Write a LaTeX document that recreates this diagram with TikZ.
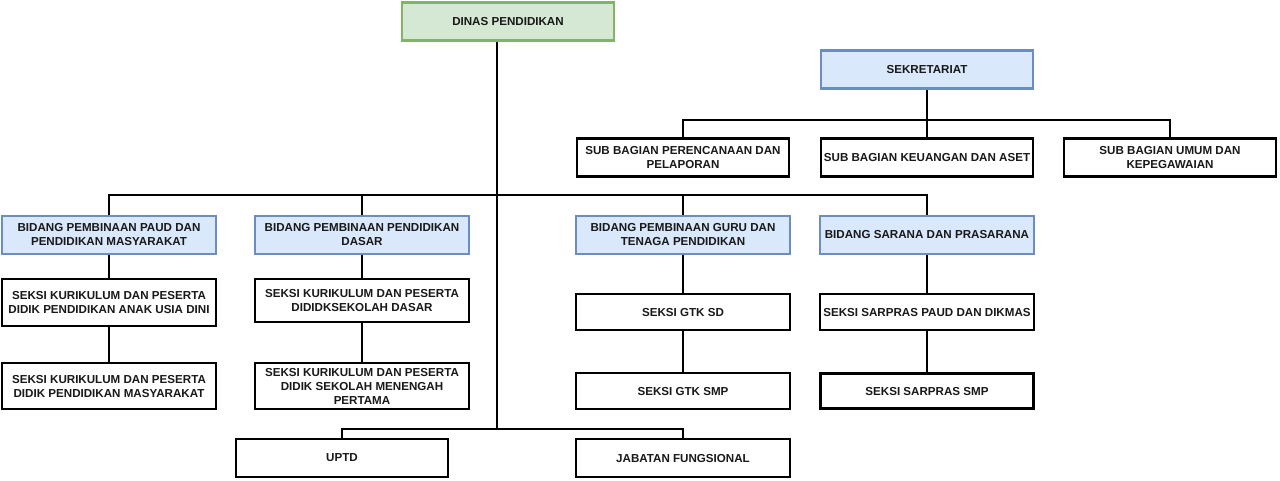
\documentclass[tikz,border=0pt]{standalone}
\usepackage{fontspec}
\setmainfont{Liberation Sans}
\begin{document}
\begin{tikzpicture}[x=1pt,y=-1pt,
  box/.style={draw=black,line width=2.2pt,fill=white,inner sep=0pt,align=center,
    font=\fontsize{11.6}{14}\selectfont\bfseries,text=black!90,minimum width=212pt,minimum height=38pt},
  green/.style={fill={rgb,255:red,213;green,232;blue,212},draw={rgb,255:red,130;green,179;blue,102}},
  blue/.style={fill={rgb,255:red,218;green,232;blue,252},draw={rgb,255:red,108;green,142;blue,191}},
  conn/.style={draw=black,line width=2.2pt}]
\useasboundingbox (0,0) rectangle (1280,480);
% top
\node[box,green] (dinas) at (508,21.5) {DINAS PENDIDIKAN};
\node[box,blue] (sek) at (927,69.5) {SEKRETARIAT};
\node[box] (sb1) at (683,157.5) {SUB BAGIAN PERENCANAAN DAN\\PELAPORAN};
\node[box] (sb2) at (927,157.5) {SUB BAGIAN KEUANGAN DAN ASET};
\node[box] (sb3) at (1170,157.5) {SUB BAGIAN UMUM DAN\\KEPEGAWAIAN};
% bidang
\node[box,blue,minimum width=214pt] (b1) at (109,235) {BIDANG PEMBINAAN PAUD DAN\\PENDIDIKAN MASYARAKAT};
\node[box,blue,minimum width=214pt] (b2) at (362,235) {BIDANG PEMBINAAN PENDIDIKAN\\DASAR};
\node[box,blue,minimum width=214pt] (b3) at (683,235) {BIDANG PEMBINAAN GURU DAN\\TENAGA PENDIDIKAN};
\node[box,blue,minimum width=214pt] (b4) at (927,235) {BIDANG SARANA DAN PRASARANA};
% seksi
\node[box,minimum width=214pt,minimum height=47pt] (s11) at (109,302.5) {SEKSI KURIKULUM DAN PESERTA\\DIDIK PENDIDIKAN ANAK USIA DINI};
\node[box,minimum width=214pt,minimum height=46pt] (s12) at (109,386) {SEKSI KURIKULUM DAN PESERTA\\DIDIK PENDIDIKAN MASYARAKAT};
\node[box,minimum width=214pt,minimum height=43pt] (s21) at (362,300.5) {SEKSI KURIKULUM DAN PESERTA\\DIDIDKSEKOLAH DASAR};
\node[box,minimum width=214pt,minimum height=46pt] (s22) at (362,386) {SEKSI KURIKULUM DAN PESERTA\\DIDIK SEKOLAH MENENGAH\\PERTAMA};
\node[box,minimum width=214pt,minimum height=36pt] (s31) at (683,312) {SEKSI GTK SD};
\node[box,minimum width=214pt,minimum height=36pt] (s32) at (683,391) {SEKSI GTK SMP};
\node[box,minimum width=214pt,minimum height=36pt] (s41) at (927,312) {SEKSI SARPRAS PAUD DAN DIKMAS};
\node[box,line width=3pt,minimum width=213pt,minimum height=35pt] (s42) at (927,391) {SEKSI SARPRAS SMP};
% bottom
\node[box,minimum height=38pt] (uptd) at (342,458) {UPTD};
\node[box,minimum width=214pt,minimum height=38pt] (jab) at (683,458) {JABATAN FUNGSIONAL};
% junctions
\coordinate (j1) at (497,195);
\coordinate (j2) at (497,429);
\coordinate (k1) at (927,120);
% connectors
\draw[conn] (dinas.south -| j1) -- (j2);
\draw[conn] (b1.north) |- (j1) -| (b4.north);
\draw[conn] (b2.north) -- (b2.north |- j1);
\draw[conn] (b3.north) -- (b3.north |- j1);
\draw[conn] (sek.south) -- (sb2.north);
\draw[conn] (sb1.north) |- (k1) -| (sb3.north);
\draw[conn] (uptd.north) |- (j2) -| (jab.north);
\draw[conn] (b1.south) -- (s11.north);
\draw[conn] (s11.south) -- (s12.north);
\draw[conn] (b2.south) -- (s21.north);
\draw[conn] (s21.south) -- (s22.north);
\draw[conn] (b3.south) -- (s31.north);
\draw[conn] (s31.south) -- (s32.north);
\draw[conn] (b4.south) -- (s41.north);
\draw[conn] (s41.south) -- (s42.north);
\end{tikzpicture}
\end{document}
